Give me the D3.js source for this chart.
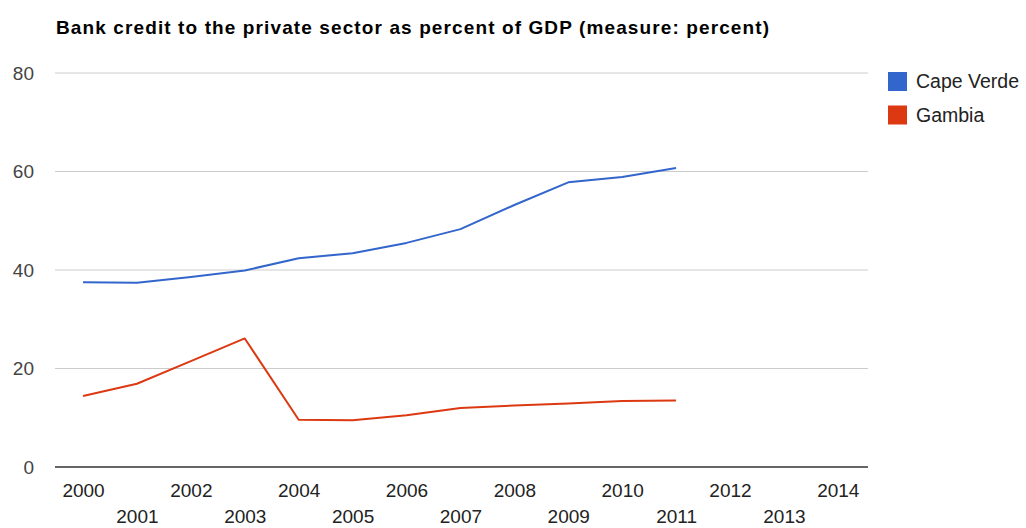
<!DOCTYPE html>
<html>
<head>
<meta charset="utf-8">
<script src="https://cdn.jsdelivr.net/npm/d3@7"></script>
<style>
  html, body { margin: 0; padding: 0; background: #fff; }
  svg { display: block; font-family: Arial, "Liberation Sans", sans-serif; }
</style>
</head>
<body>
<svg id="chart" width="1026" height="528"></svg>
<script>
// Bank credit to the private sector (% of GDP)
const years = [2000, 2001, 2002, 2003, 2004, 2005, 2006, 2007, 2008, 2009, 2010, 2011];
const capeVerde = [37.4, 37.3, 38.5, 39.8, 42.3, 43.3, 45.4, 48.2, 53.1, 57.7, 58.8, 60.6];
const gambia = [14.3, 16.8, 21.4, 26.0, 9.5, 9.4, 10.4, 11.9, 12.4, 12.8, 13.3, 13.4];
const seriesNames = ["Cape Verde", "Gambia"];
const seriesColors = ["#3366cc", "#dc3912"];
const xTicks = [2000, 2001, 2002, 2003, 2004, 2005, 2006, 2007, 2008, 2009, 2010, 2011, 2012, 2013, 2014];
const yTicks = [0, 20, 40, 60, 80];
const chartTitle = "Bank credit to the private sector as percent of GDP (measure: percent)";

const svg = d3.select("#chart");
const plot = { left: 55, right: 868, top: 72.5, bottom: 466.5 };

const x = d3.scaleLinear().domain([1999.48, 2014.56]).range([plot.left, plot.right]);
const y = d3.scaleLinear().domain([0, 80]).range([plot.bottom, plot.top]);

// title
svg.append("text")
  .attr("x", 56).attr("y", 34)
  .attr("font-size", 19).attr("font-weight", "bold").attr("fill", "#000")
  .attr("textLength", 713).attr("lengthAdjust", "spacing")
  .text(chartTitle);

// horizontal gridlines
const yAxis = d3.axisLeft(y).tickValues(yTicks).tickSize(-(plot.right - plot.left)).tickPadding(20);
const gy = svg.append("g").attr("transform", `translate(${plot.left},0)`).call(yAxis);
gy.select(".domain").remove();
gy.selectAll(".tick line").attr("stroke", "#cccccc").attr("stroke-width", 1)
  .filter(d => d === 0).attr("stroke", "#333333").attr("stroke-width", 1.5);
gy.selectAll(".tick text").attr("font-size", 19).attr("fill", "#444").attr("font-family", null)
  .attr("x", -21).attr("dy", "0.35em");

// x axis labels, staggered in two rows
const xAxis = d3.axisBottom(x).tickValues(xTicks).tickFormat(d3.format("d")).tickSize(0);
const gx = svg.append("g").attr("transform", `translate(0,${plot.bottom})`).call(xAxis);
gx.select(".domain").remove();
gx.selectAll(".tick text").attr("font-size", 19).attr("fill", "#222").attr("font-family", null)
  .attr("dy", null)
  .attr("y", (d, i) => i % 2 === 0 ? 30.5 : 56.5);

// series lines
const line = d3.line().x((d, i) => x(years[i])).y(d => y(d));
[capeVerde, gambia].forEach((vals, k) => {
  svg.append("path")
    .datum(vals)
    .attr("fill", "none")
    .attr("stroke", seriesColors[k])
    .attr("stroke-width", 2)
    .attr("stroke-linejoin", "round")
    .attr("d", line);
});

// legend
const legend = svg.append("g").attr("transform", "translate(888,72)");
seriesNames.forEach((name, k) => {
  const row = legend.append("g").attr("transform", `translate(0,${k * 33.5})`);
  row.append("rect").attr("width", 19).attr("height", 19).attr("fill", seriesColors[k]);
  row.append("text").attr("x", 28).attr("y", 16).attr("font-size", 19.5).attr("fill", "#222").text(name);
});
</script>
</body>
</html>
